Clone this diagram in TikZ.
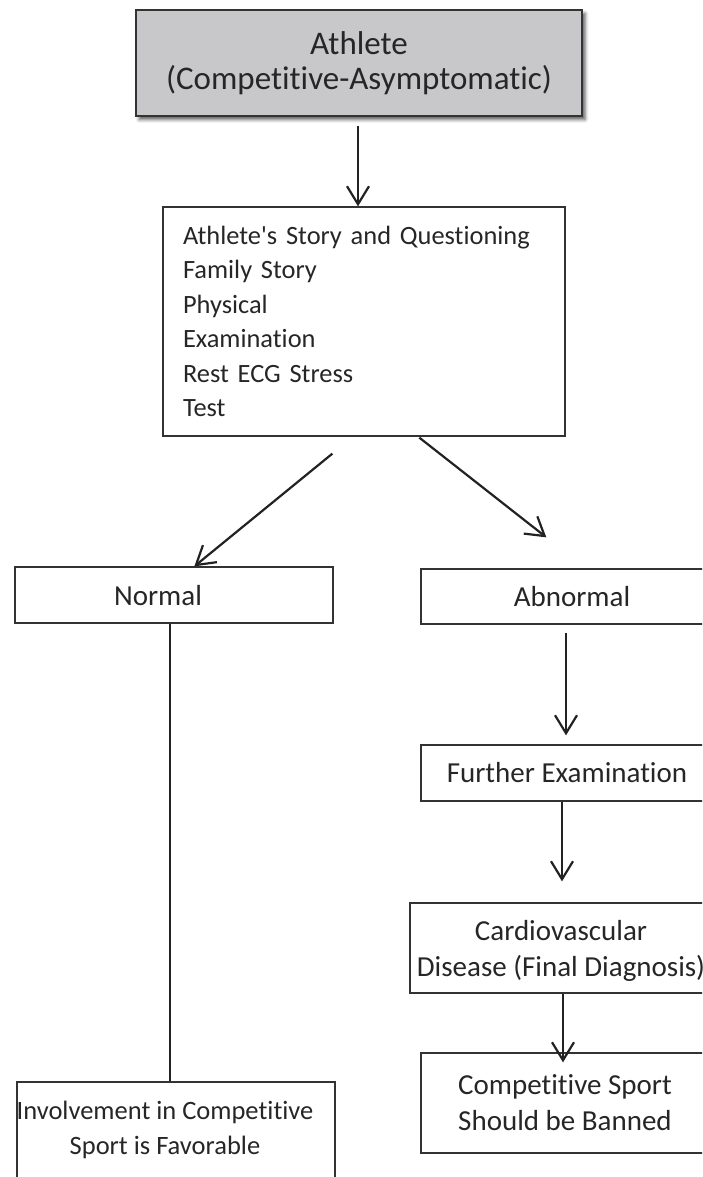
\documentclass[tikz,border=0pt]{standalone}
\usepackage{fontspec}
\setmainfont{Carlito}[Ligatures=NoCommon]
\usetikzlibrary{arrows.meta,calc,shadows.blur}
\definecolor{inkline}{HTML}{222222}
\definecolor{boxline}{HTML}{333333}
\definecolor{inktext}{HTML}{262626}
\definecolor{headfill}{HTML}{C8C8CA}
\tikzset{
  box/.style={draw=boxline, line width=1.3pt, rectangle, inner sep=0pt, text=inktext, align=center},
  arr/.style={draw=inkline, line width=2.2pt, -{Straight Barb[length=18pt,width=22pt]}},
  link/.style={draw=inkline, line width=2.2pt},
  txt/.style={text=inktext, inner sep=0pt, align=center},
  bigfont/.style={font=\fontsize{33}{35}\selectfont},
  midfont/.style={font=\fontsize{29}{36}\selectfont},
  listfont/.style={font=\fontsize{26.4}{34.4}\selectfont},
}
\begin{document}
\begin{tikzpicture}[x=1pt,y=-1pt]
\useasboundingbox (0,0) rectangle (702,1177);
\clip (0,0) rectangle (702,1177);

% header box
\node[box, bigfont, fill=headfill, minimum width=446pt, minimum height=106pt,
      blur shadow={shadow xshift=3pt, shadow yshift=-3.5pt, shadow blur radius=3.5pt, shadow opacity=65}]
  (athlete) at (359,63) {Athlete\\(Competitive-Asymptomatic)};

% screening box
\node[box, listfont, minimum height=229pt, text width=362pt, inner xsep=20pt, align=left]
  (screen) at (364,321.5)
  {Athlete\textquotesingle s Story and Questioning\\Family Story\\Physical\\Examination\\Rest ECG Stress\\Test};

% left branch
\node[box, minimum width=318pt, minimum height=56pt] (normal) at (174,595) {};
\node[txt, midfont] (normaltxt) at (158,596) {Normal};
\node[box, minimum width=318pt, minimum height=120pt] (fav) at (176,1142) {};
\node[txt, font=\fontsize{26.5}{35}\selectfont] (favtxt) at (165,1130)
  {Involvement in Competitive\\Sport is Favorable};

% right branch
\node[box, midfont, minimum width=302pt, minimum height=55pt] (abnormal) at (572,596.5) {Abnormal};
\node[box, midfont, minimum width=292pt, minimum height=56pt] (further) at (567,773) {Further Examination};
\node[box, minimum width=314pt, minimum height=90pt] (cardio) at (567,948) {};
\node[txt, midfont] (cardiotxt) at (561,951) {Cardiovascular\\Disease (Final Diagnosis)};
\node[box, midfont, minimum width=288pt, minimum height=100pt] (banned) at (565,1103)
  {Competitive Sport\\Should be Banned};

% connectors
\coordinate (a1) at ($(athlete.south)+(-1,9)$);
\draw[arr] (a1) -- (a1 |- screen.north);

\draw[arr] ($(screen.south west)+(170,17)$) -- ($(normal.north west)+(180,0)$);
\coordinate (abend) at ($(abnormal.north west)+(126,-31)$);
\draw[arr] ($(screen.south west)+(257,1)$) -- (abend);

\draw[arr] ($(abnormal.south)+(-6,8)$) -- ($(further.north)+(-1,-9)$);
\draw[arr] ($(further.south)+(-5,0)$) -- ($(cardio.north)+(-5,-21)$);
\draw[arr] ($(cardio.south)+(-4,0)$) -- ($(banned.north)+(-2,10)$);

\draw[link] ($(normal.south)+(-4,0)$) -- ($(fav.north)+(-6,0)$);
\end{tikzpicture}
\end{document}
